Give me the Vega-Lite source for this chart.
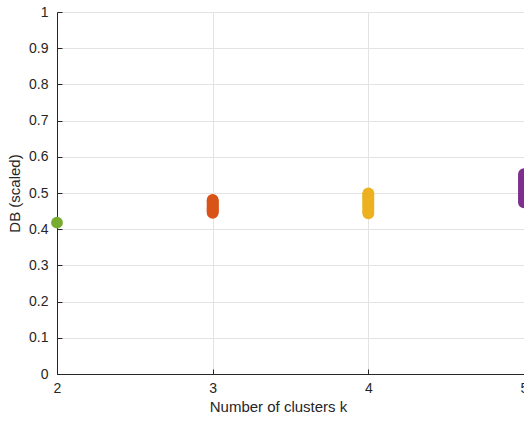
{
  "$schema": "https://vega.github.io/schema/vega-lite/v6.json",
  "width": 467,
  "height": 362,
  "autosize": {"type": "none"},
  "padding": {"left": 57, "top": 12, "right": 0, "bottom": 49},
  "background": "white",
  "config": {
    "view": {"stroke": null},
    "font": "Liberation Sans",
    "axis": {
      "labelFont": "Liberation Sans",
      "titleFont": "Liberation Sans",
      "labelFontSize": 14,
      "titleFontSize": 15,
      "titleFontWeight": "normal",
      "labelColor": "#262626",
      "titleColor": "#262626",
      "domainColor": "#262626",
      "domainWidth": 1,
      "tickColor": "#262626",
      "tickSize": -5,
      "gridColor": "#e3e3e3",
      "gridWidth": 1
    }
  },
  "data": {
    "values": [
      {"k": 2, "db": 0.418},
      {"k": 3, "db": 0.445}, {"k": 3, "db": 0.449}, {"k": 3, "db": 0.452}, {"k": 3, "db": 0.455},
      {"k": 3, "db": 0.458}, {"k": 3, "db": 0.461}, {"k": 3, "db": 0.464}, {"k": 3, "db": 0.467},
      {"k": 3, "db": 0.470}, {"k": 3, "db": 0.473}, {"k": 3, "db": 0.476}, {"k": 3, "db": 0.479},
      {"k": 3, "db": 0.481},
      {"k": 4, "db": 0.444}, {"k": 4, "db": 0.448}, {"k": 4, "db": 0.452}, {"k": 4, "db": 0.457},
      {"k": 4, "db": 0.461}, {"k": 4, "db": 0.466}, {"k": 4, "db": 0.470}, {"k": 4, "db": 0.474},
      {"k": 4, "db": 0.479}, {"k": 4, "db": 0.483}, {"k": 4, "db": 0.488}, {"k": 4, "db": 0.492},
      {"k": 4, "db": 0.496}, {"k": 4, "db": 0.499},
      {"k": 5, "db": 0.474}, {"k": 5, "db": 0.480}, {"k": 5, "db": 0.486}, {"k": 5, "db": 0.492},
      {"k": 5, "db": 0.498}, {"k": 5, "db": 0.504}, {"k": 5, "db": 0.510}, {"k": 5, "db": 0.516},
      {"k": 5, "db": 0.522}, {"k": 5, "db": 0.528}, {"k": 5, "db": 0.534}, {"k": 5, "db": 0.540},
      {"k": 5, "db": 0.546}, {"k": 5, "db": 0.552}
    ]
  },
  "mark": {"type": "circle", "size": 140, "opacity": 1, "clip": false},
  "encoding": {
    "x": {
      "field": "k",
      "type": "quantitative",
      "scale": {"domain": [2, 5], "nice": false, "zero": false},
      "axis": {
        "values": [2, 3, 4, 5],
        "format": "d",
        "title": "Number of clusters k",
        "labelFlush": false,
        "labelPadding": 12,
        "titlePadding": 4,
        "titleX": 221
      }
    },
    "y": {
      "field": "db",
      "type": "quantitative",
      "scale": {"domain": [0, 1], "nice": false},
      "axis": {
        "values": [0, 0.1, 0.2, 0.3, 0.4, 0.5, 0.6, 0.7, 0.8, 0.9, 1],
        "labelExpr": "datum.value === 0 ? '0' : datum.value === 1 ? '1' : format(datum.value, '.1f')",
        "labelFlush": false,
        "title": "DB (scaled)",
        "labelPadding": 14,
        "titlePadding": 6
      }
    },
    "color": {
      "field": "k",
      "type": "nominal",
      "scale": {"domain": [2, 3, 4, 5], "range": ["#77AC30", "#D95319", "#EDB120", "#7E2F8E"]},
      "legend": null
    }
  }
}
